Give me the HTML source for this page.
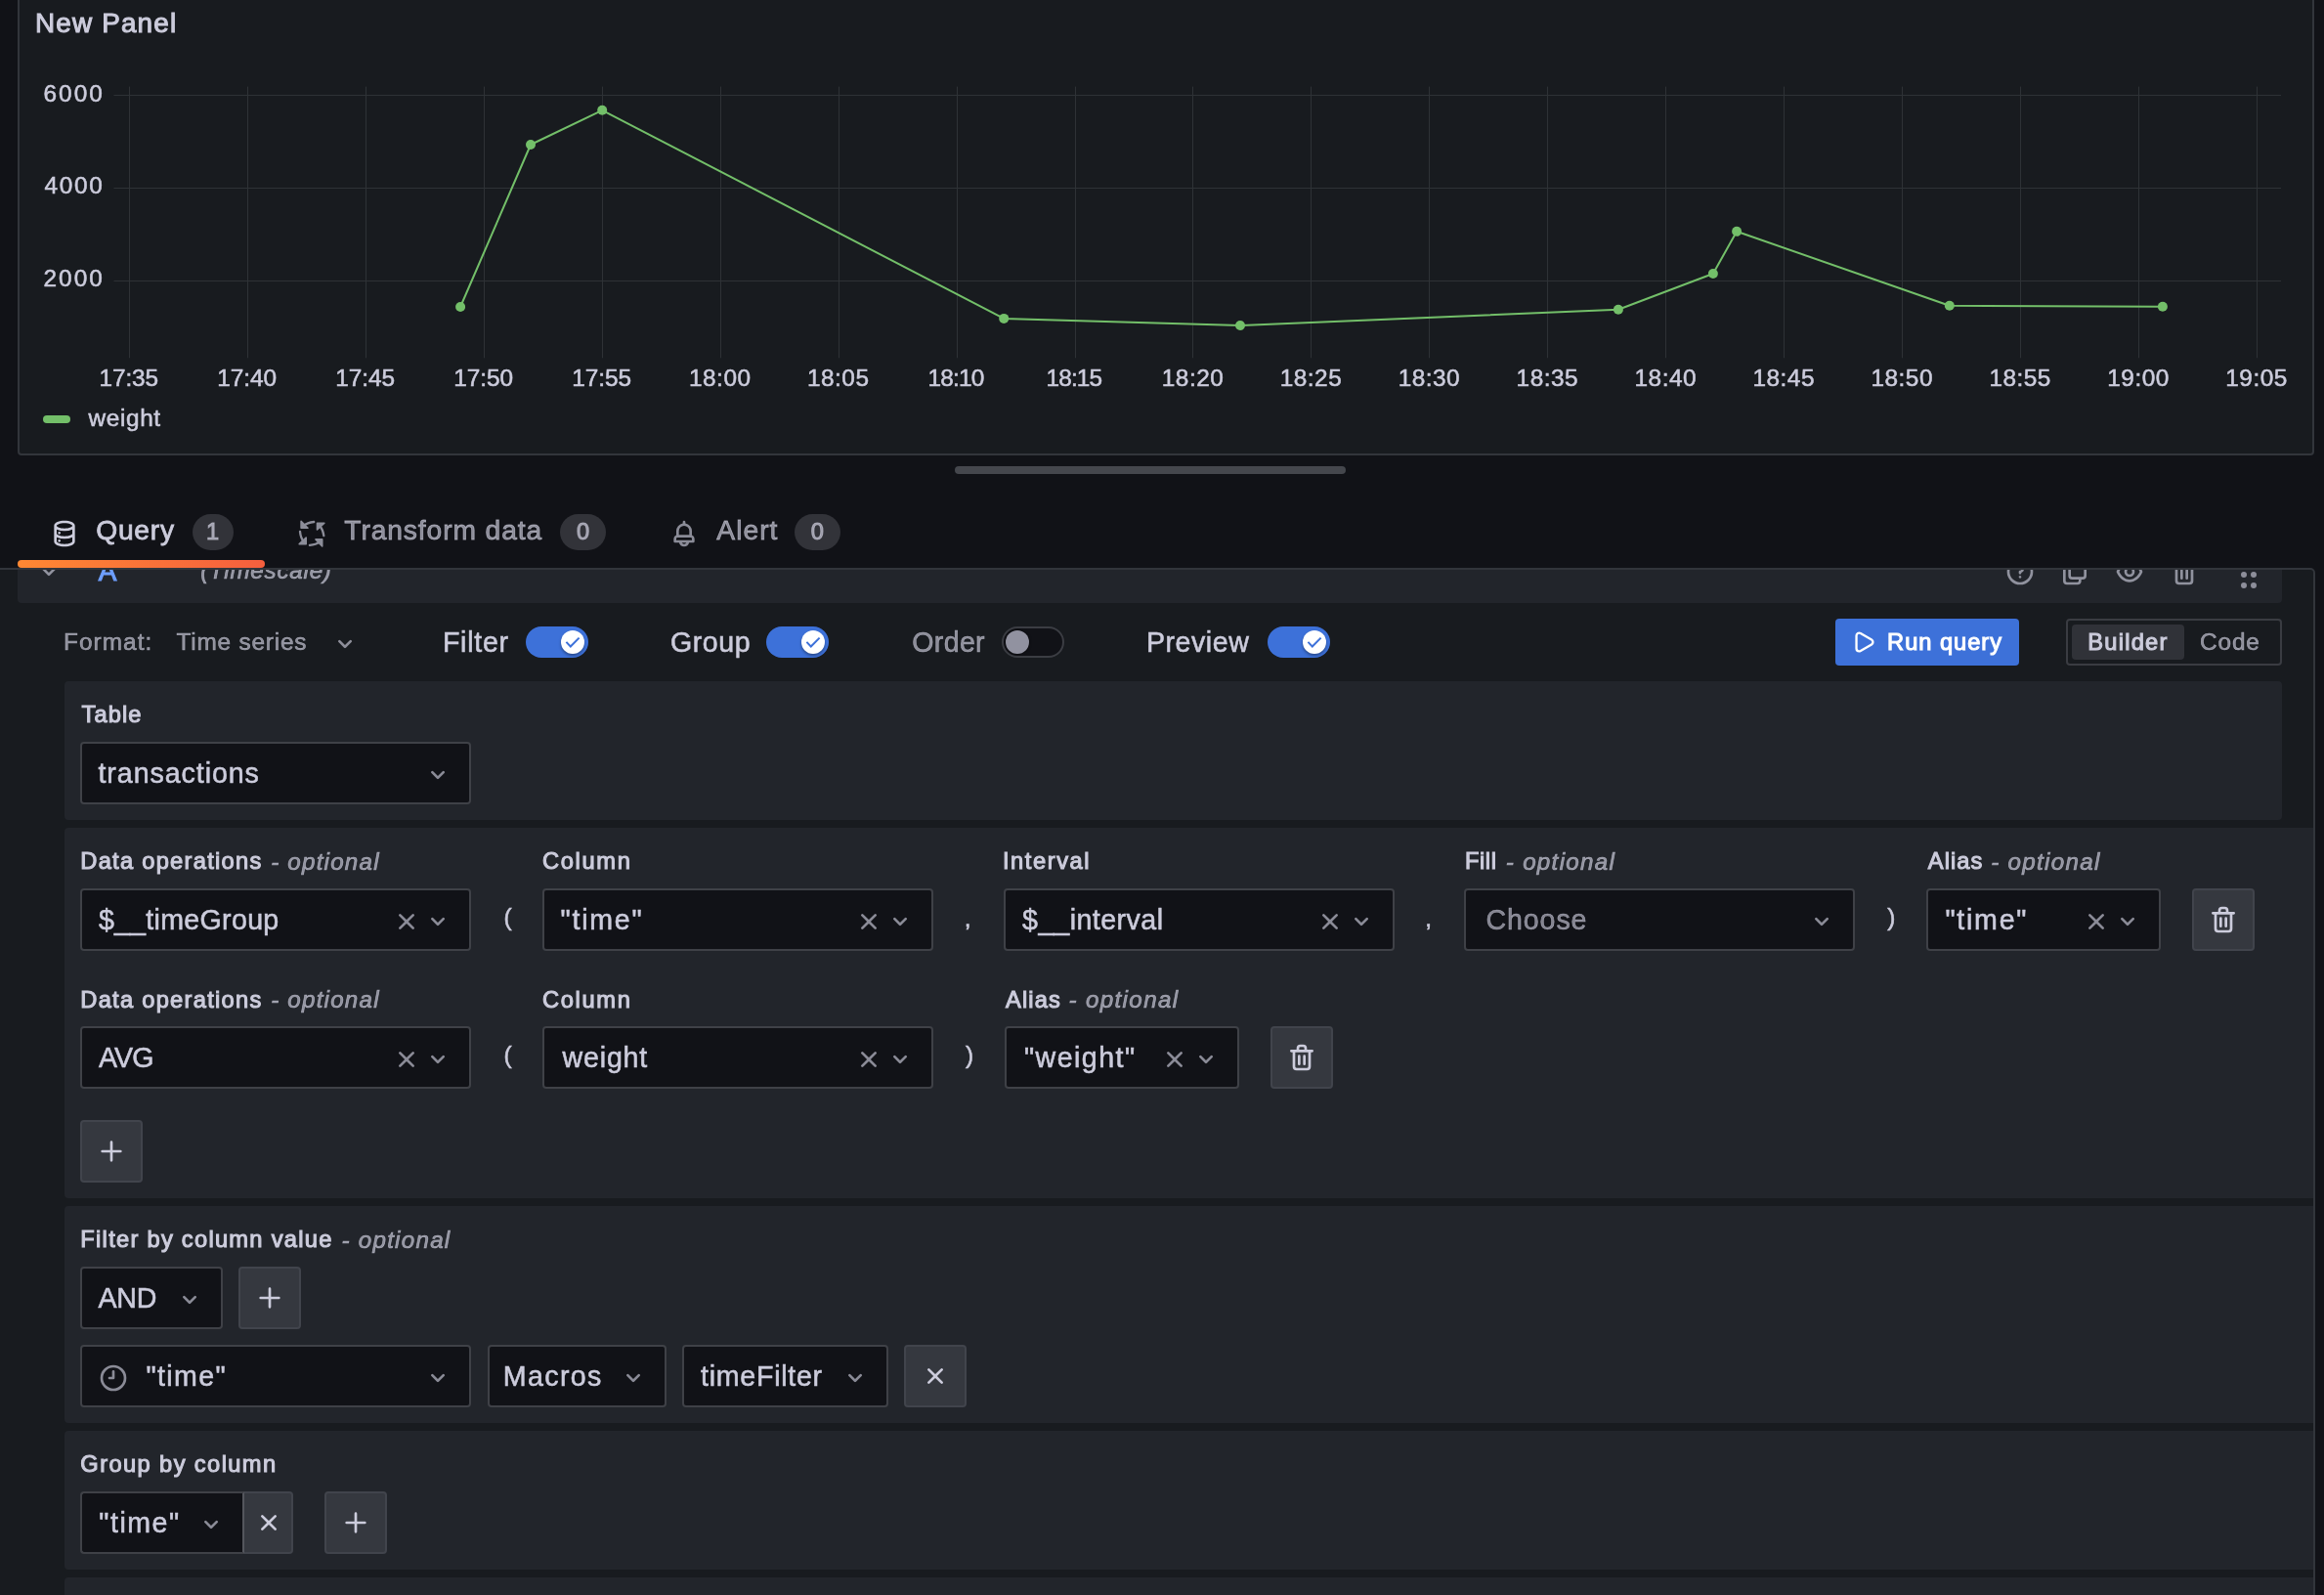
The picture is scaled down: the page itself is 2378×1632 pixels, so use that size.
<!DOCTYPE html>
<html lang="en"><head><meta charset="utf-8"><title>Edit panel - New Panel - Grafana</title>
<style>
html,body{margin:0;padding:0}
body{width:2378px;height:1632px;overflow:hidden;background:#111217;position:relative;
 font-family:"Liberation Sans",sans-serif;color:#ccccdc}
.abs,.t,.ic,.chart,.hdr,.sec,.sel,.btn,.runq,.rg,.rga,.tg,.dot,.panel,.qc,.clip,.handle,.badge,.ul,.leg{position:absolute}
.t{line-height:1;white-space:nowrap;color:#ccccdc;-webkit-text-stroke:0.55px currentColor}
.i{font-style:italic;-webkit-text-stroke:0.7px currentColor}
.m{-webkit-text-stroke:1.05px currentColor}
.sm{-webkit-text-stroke:0.8px currentColor}
.gl{position:absolute;left:0;top:0;width:2378px;height:1632px;will-change:transform}
.panel{left:18px;top:-20px;width:2346px;height:482px;border:2px solid #32353b;border-radius:4px;background:#181b1f}
.chart{left:0;top:0}
.leg{left:44px;top:425px;width:28px;height:8px;border-radius:4px;background:#73bf69}
.handle{left:977px;top:477px;width:400px;height:8px;border-radius:4px;background:#45474d}
.badge{top:526px;height:37px;border-radius:19px;background:#323339}
.ul{left:18px;top:573px;width:253px;height:8px;border-radius:4px;background:linear-gradient(90deg,#ff8833 0%,#f55f3e 100%)}
.qc{left:-12px;top:581px;width:2377px;height:1100px;border:2px solid #32353b;border-radius:5px;background:#181b1f}
.clip{left:0;top:0;width:2378px;height:1632px;clip-path:inset(583px 11px 0 0)}
.hdr{background:#22252b;border-radius:4px}
.sec{background:#22252b;border-radius:4px}
.sel{box-sizing:border-box;background:#111217;border:2px solid #3f4147;border-radius:4px}
.btn{box-sizing:border-box;background:#35383f;border:2px solid #41444c;border-radius:4px}
.runq{background:#3d71d9;border-radius:4px}
.rg{box-sizing:border-box;border:2px solid #3a3c42;border-radius:4px}
.rga{background:#303238;border-radius:4px}
.dot{width:6px;height:6px;border-radius:50%;background:#8d8e9a}
.tg{box-sizing:border-box;width:64px;height:32px;border-radius:16px}
.tg.on{background:#3d71d9}
.tg.on .kn{position:absolute;left:36px;top:4px;width:24px;height:24px;border-radius:50%;background:#fff;box-shadow:0 2px 3px rgba(0,0,0,.35)}
.tg.on .ck{position:absolute;left:36px;top:4px}
.tg.off{background:#111217;border:2px solid #3b3d43}
.tg.off .kn{position:absolute;left:1.8px;top:2px;width:24px;height:24px;border-radius:50%;background:#9192a0;box-shadow:0 0 3px rgba(0,0,0,.6)}
</style></head>
<body>
<div class="panel"></div>
<svg class="chart" width="2378" height="470" viewBox="0 0 2378 470"><line x1="132.5" y1="88.6" x2="132.5" y2="366.3" stroke="#2e3236" stroke-width="1"/><line x1="253.5" y1="88.6" x2="253.5" y2="366.3" stroke="#2e3236" stroke-width="1"/><line x1="374.5" y1="88.6" x2="374.5" y2="366.3" stroke="#2e3236" stroke-width="1"/><line x1="495.5" y1="88.6" x2="495.5" y2="366.3" stroke="#2e3236" stroke-width="1"/><line x1="616.5" y1="88.6" x2="616.5" y2="366.3" stroke="#2e3236" stroke-width="1"/><line x1="737.5" y1="88.6" x2="737.5" y2="366.3" stroke="#2e3236" stroke-width="1"/><line x1="858.5" y1="88.6" x2="858.5" y2="366.3" stroke="#2e3236" stroke-width="1"/><line x1="979.5" y1="88.6" x2="979.5" y2="366.3" stroke="#2e3236" stroke-width="1"/><line x1="1100.5" y1="88.6" x2="1100.5" y2="366.3" stroke="#2e3236" stroke-width="1"/><line x1="1220.5" y1="88.6" x2="1220.5" y2="366.3" stroke="#2e3236" stroke-width="1"/><line x1="1341.5" y1="88.6" x2="1341.5" y2="366.3" stroke="#2e3236" stroke-width="1"/><line x1="1462.5" y1="88.6" x2="1462.5" y2="366.3" stroke="#2e3236" stroke-width="1"/><line x1="1583.5" y1="88.6" x2="1583.5" y2="366.3" stroke="#2e3236" stroke-width="1"/><line x1="1704.5" y1="88.6" x2="1704.5" y2="366.3" stroke="#2e3236" stroke-width="1"/><line x1="1825.5" y1="88.6" x2="1825.5" y2="366.3" stroke="#2e3236" stroke-width="1"/><line x1="1946.5" y1="88.6" x2="1946.5" y2="366.3" stroke="#2e3236" stroke-width="1"/><line x1="2067.5" y1="88.6" x2="2067.5" y2="366.3" stroke="#2e3236" stroke-width="1"/><line x1="2188.5" y1="88.6" x2="2188.5" y2="366.3" stroke="#2e3236" stroke-width="1"/><line x1="2309.5" y1="88.6" x2="2309.5" y2="366.3" stroke="#2e3236" stroke-width="1"/><line x1="116.5" y1="97.5" x2="2334" y2="97.5" stroke="#2e3236" stroke-width="1"/><line x1="116.5" y1="192.5" x2="2334" y2="192.5" stroke="#2e3236" stroke-width="1"/><line x1="116.5" y1="287.5" x2="2334" y2="287.5" stroke="#2e3236" stroke-width="1"/><polyline fill="none" stroke="#73bf69" stroke-width="2" stroke-linejoin="round" points="471.1,314.0 543.0,148.0 616.2,112.8 1027.2,325.9 1269.0,333.0 1655.9,316.8 1752.9,280.0 1777.1,236.8 1994.8,312.7 2212.9,313.8"/><circle cx="471.1" cy="314.0" r="5" fill="#73bf69"/><circle cx="543.0" cy="148.0" r="5" fill="#73bf69"/><circle cx="616.2" cy="112.8" r="5" fill="#73bf69"/><circle cx="1027.2" cy="325.9" r="5" fill="#73bf69"/><circle cx="1269.0" cy="333.0" r="5" fill="#73bf69"/><circle cx="1655.9" cy="316.8" r="5" fill="#73bf69"/><circle cx="1752.9" cy="280.0" r="5" fill="#73bf69"/><circle cx="1777.1" cy="236.8" r="5" fill="#73bf69"/><circle cx="1994.8" cy="312.7" r="5" fill="#73bf69"/><circle cx="2212.9" cy="313.8" r="5" fill="#73bf69"/></svg>
<div class="leg"></div>
<div class="handle"></div>
<!-- tabs -->
<svg class="ic" style="left:50.00px;top:530.00px" width="32" height="32" viewBox="0 0 24 24"><path fill="#ccccdc" d="M8,16.5a1,1,0,1,0,1,1A1,1,0,0,0,8,16.5ZM12,2C8,2,4,3.37,4,6V18c0,2.63,4,4,8,4s8-1.37,8-4V6C20,3.37,16,2,12,2Zm6,16c0,.71-2.28,2-6,2s-6-1.29-6-2V14.73A13.16,13.16,0,0,0,12,16a13.16,13.16,0,0,0,6-1.27Zm0-6c0,.71-2.28,2-6,2s-6-1.29-6-2V8.73A13.16,13.16,0,0,0,12,10a13.16,13.16,0,0,0,6-1.27ZM12,8C8.28,8,6,6.71,6,6s2.28-2,6-2,6,1.29,6,2S15.72,8,12,8ZM8,10.5a1,1,0,1,0,1,1A1,1,0,0,0,8,10.5Z"/></svg>
<svg class="ic" style="left:300px;top:527px" width="40" height="38" viewBox="300 527 40 38"><g fill="none" stroke="#8c8d99" stroke-width="2.3" stroke-linecap="round" stroke-linejoin="round"><path d="M310.5 538 Q314.5 534.6 321.2 534"/><path d="M326.8 537.6 Q330.4 541.5 331.3 548.2"/><path d="M310.8 554.2 Q307.6 550.6 307 543.9"/><path d="M327 554.4 Q323.4 557.4 316.9 557.9"/></g><g fill="#8c8d99" stroke="#8c8d99" stroke-width="1.6" stroke-linejoin="round"><path d="M308.1 533.4 V540.3 H315 Z"/><path d="M331.9 535.2 H324.5 V542 Z"/><path d="M306.2 556.7 H313.2 V550 Z"/><path d="M323 551.9 H329.7 V559 Z"/></g></svg>
<svg class="ic" style="left:684.00px;top:530.00px" width="32" height="32" viewBox="0 0 24 24"><path fill="rgba(204,204,220,0.65)" d="M18,13.18V10a6,6,0,0,0-5-5.91V3a1,1,0,0,0-2,0V4.09A6,6,0,0,0,6,10v3.18A3,3,0,0,0,4,16v2a1,1,0,0,0,1,1H8.14a4,4,0,0,0,7.72,0H19a1,1,0,0,0,1-1V16A3,3,0,0,0,18,13.18ZM8,10a4,4,0,0,1,8,0v3H8Zm4,10a2,2,0,0,1-1.72-1h3.44A2,2,0,0,1,12,20Zm6-3H6V16a1,1,0,0,1,1-1H17a1,1,0,0,1,1,1Z"/></svg>
<div class="badge" style="left:197px;width:42px"></div>
<div class="badge" style="left:573px;width:47px"></div>
<div class="badge" style="left:813px;width:47px"></div>
<div class="qc"></div>
<div class="ul"></div>
<div class="gl">
<span class="t m" style="left:35.92px;top:10.27px;font-size:27.86px;letter-spacing:1.189px">New Panel</span>
<span class="t" style="left:44.57px;top:83.52px;font-size:24.39px;letter-spacing:1.994px">6000</span>
<span class="t" style="left:45.57px;top:178.42px;font-size:24.39px;letter-spacing:1.660px">4000</span>
<span class="t" style="left:44.57px;top:273.43px;font-size:24.39px;letter-spacing:1.994px">2000</span>
<span class="t" style="left:101.38px;top:374.53px;font-size:24.39px;letter-spacing:-0.048px">17:35</span>
<span class="t" style="left:222.32px;top:374.53px;font-size:24.39px;letter-spacing:-0.048px">17:40</span>
<span class="t" style="left:343.26px;top:374.53px;font-size:24.39px;letter-spacing:-0.048px">17:45</span>
<span class="t" style="left:464.21px;top:374.53px;font-size:24.39px;letter-spacing:-0.048px">17:50</span>
<span class="t" style="left:585.15px;top:374.53px;font-size:24.39px;letter-spacing:-0.048px">17:55</span>
<span class="t" style="left:705.00px;top:374.53px;font-size:24.39px;letter-spacing:0.502px">18:00</span>
<span class="t" style="left:825.94px;top:374.53px;font-size:24.39px;letter-spacing:0.502px">18:05</span>
<span class="t" style="left:949.58px;top:374.53px;font-size:24.39px;letter-spacing:-0.848px">18:10</span>
<span class="t" style="left:1070.53px;top:374.53px;font-size:24.39px;letter-spacing:-0.848px">18:15</span>
<span class="t" style="left:1188.77px;top:374.53px;font-size:24.39px;letter-spacing:0.502px">18:20</span>
<span class="t" style="left:1309.72px;top:374.53px;font-size:24.39px;letter-spacing:0.502px">18:25</span>
<span class="t" style="left:1430.66px;top:374.53px;font-size:24.39px;letter-spacing:0.502px">18:30</span>
<span class="t" style="left:1551.60px;top:374.53px;font-size:24.39px;letter-spacing:0.502px">18:35</span>
<span class="t" style="left:1672.55px;top:374.53px;font-size:24.39px;letter-spacing:0.502px">18:40</span>
<span class="t" style="left:1793.49px;top:374.53px;font-size:24.39px;letter-spacing:0.502px">18:45</span>
<span class="t" style="left:1914.44px;top:374.53px;font-size:24.39px;letter-spacing:0.502px">18:50</span>
<span class="t" style="left:2035.38px;top:374.53px;font-size:24.39px;letter-spacing:0.502px">18:55</span>
<span class="t" style="left:2156.32px;top:374.53px;font-size:24.39px;letter-spacing:0.502px">19:00</span>
<span class="t" style="left:2277.27px;top:374.53px;font-size:24.39px;letter-spacing:0.502px">19:05</span>
<span class="t" style="left:90.48px;top:415.53px;font-size:24.39px;letter-spacing:0.633px">weight</span>
<span class="t sm" style="left:98.30px;top:528.40px;font-size:28.23px;letter-spacing:0.716px">Query</span>
<span class="t m" style="left:211.10px;top:533.48px;font-size:23.67px;color:rgba(204,204,220,0.65)">1</span>
<span class="t sm" style="left:352.30px;top:528.40px;font-size:28.23px;letter-spacing:0.893px;color:rgba(204,204,220,0.65)">Transform data</span>
<span class="t m" style="left:589.90px;top:533.48px;font-size:23.67px;color:rgba(204,204,220,0.65)">0</span>
<span class="t sm" style="left:733.30px;top:528.40px;font-size:28.23px;letter-spacing:1.030px;color:rgba(204,204,220,0.65)">Alert</span>
<span class="t m" style="left:829.80px;top:533.48px;font-size:23.67px;color:rgba(204,204,220,0.65)">0</span>
</div>
<div class="gl"><div class="clip">
<div class="hdr" style="left:18px;top:552.5px;width:2317px;height:64px;"></div>
<svg class="ic" style="left:34.20px;top:568.80px" width="32" height="32" viewBox="0 0 24 24"><path fill="rgba(204,204,220,0.65)" d="M17,9.17a1,1,0,0,0-1.41,0L12,12.71,8.46,9.17a1,1,0,0,0-1.41,0,1,1,0,0,0,0,1.42l4.24,4.24a1,1,0,0,0,1.42,0L17,10.59A1,1,0,0,0,17,9.17Z"/></svg>
<svg class="ic" style="left:2051.00px;top:569.00px" width="32" height="32" viewBox="0 0 24 24"><path fill="rgba(204,204,220,0.65)" d="M11.29,15.29a1.58,1.58,0,0,0-.12.15.76.76,0,0,0-.09.18.64.64,0,0,0-.06.18,1.36,1.36,0,0,0,0,.2.84.84,0,0,0,.08.38.9.9,0,0,0,.54.54.94.94,0,0,0,.76,0,.9.9,0,0,0,.54-.54A1,1,0,0,0,13,16a1,1,0,0,0-.29-.71A1,1,0,0,0,11.29,15.29ZM12,2A10,10,0,1,0,22,12,10,10,0,0,0,12,2Zm0,18a8,8,0,1,1,8-8A8,8,0,0,1,12,20ZM12,7A3,3,0,0,0,9.4,8.5a1,1,0,1,0,1.73,1A1,1,0,0,1,12,9a1,1,0,0,1,0,2,1,1,0,0,0-1,1v1a1,1,0,0,0,2,0v-.18A3,3,0,0,0,12,7Z"/></svg>
<svg class="ic" style="left:2107.00px;top:569.00px" width="32" height="32" viewBox="0 0 24 24"><path fill="rgba(204,204,220,0.65)" d="M21,8.94a1.31,1.31,0,0,0-.06-.27l0-.09a1.07,1.07,0,0,0-.19-.28h0l-6-6h0a1.07,1.07,0,0,0-.28-.19.32.32,0,0,0-.09,0A.88.88,0,0,0,14.05,2H10A3,3,0,0,0,7,5V6H6A3,3,0,0,0,3,9V19a3,3,0,0,0,3,3h8a3,3,0,0,0,3-3V18h1a3,3,0,0,0,3-3V9S21,9,21,8.94ZM15,5.41,17.59,8H16a1,1,0,0,1-1-1ZM15,19a1,1,0,0,1-1,1H6a1,1,0,0,1-1-1V9A1,1,0,0,1,6,8H7v7a3,3,0,0,0,3,3h5Zm4-4a1,1,0,0,1-1,1H10a1,1,0,0,1-1-1V5a1,1,0,0,1,1-1h3V7a3,3,0,0,0,3,3h3Z"/></svg>
<svg class="ic" style="left:2163.00px;top:569.00px" width="32" height="32" viewBox="0 0 24 24"><path fill="rgba(204,204,220,0.65)" d="M21.92,11.6C19.9,6.91,16.1,4,12,4S4.1,6.91,2.08,11.6a1,1,0,0,0,0,.8C4.1,17.09,7.9,20,12,20s7.9-2.91,9.92-7.6A1,1,0,0,0,21.92,11.6ZM12,18c-3.17,0-6.17-2.29-7.9-6C5.83,8.29,8.83,6,12,6s6.17,2.29,7.9,6C18.17,15.71,15.17,18,12,18ZM12,8a4,4,0,1,0,4,4A4,4,0,0,0,12,8Zm0,6a2,2,0,1,1,2-2A2,2,0,0,1,12,14Z"/></svg>
<svg class="ic" style="left:2219.00px;top:569.00px" width="32" height="32" viewBox="0 0 24 24"><path fill="rgba(204,204,220,0.65)" d="M10,18a1,1,0,0,0,1-1V11a1,1,0,0,0-2,0v6A1,1,0,0,0,10,18ZM20,6H16V5a3,3,0,0,0-3-3H11A3,3,0,0,0,8,5V6H4A1,1,0,0,0,4,8H5V19a3,3,0,0,0,3,3h8a3,3,0,0,0,3-3V8h1a1,1,0,0,0,0-2ZM10,5a1,1,0,0,1,1-1h2a1,1,0,0,1,1,1V6H10Zm7,14a1,1,0,0,1-1,1H8a1,1,0,0,1-1-1V8H17Zm-3-1a1,1,0,0,0,1-1V11a1,1,0,0,0-2,0v6A1,1,0,0,0,14,18Z"/></svg>
<div class="dot" style="left:2292.7px;top:574.9px"></div>
<div class="dot" style="left:2292.7px;top:585.2px"></div>
<div class="dot" style="left:2292.7px;top:595.6px"></div>
<div class="dot" style="left:2303.1px;top:574.9px"></div>
<div class="dot" style="left:2303.1px;top:585.2px"></div>
<div class="dot" style="left:2303.1px;top:595.6px"></div>
<svg class="ic" style="left:337.00px;top:643.00px" width="32" height="32" viewBox="0 0 24 24"><path fill="rgba(204,204,220,0.65)" d="M17,9.17a1,1,0,0,0-1.41,0L12,12.71,8.46,9.17a1,1,0,0,0-1.41,0,1,1,0,0,0,0,1.42l4.24,4.24a1,1,0,0,0,1.42,0L17,10.59A1,1,0,0,0,17,9.17Z"/></svg>
<div class="tg on" style="left:538px;top:641px"><div class="kn"></div><svg class="ck" width="24" height="24" viewBox="0 0 24 24"><path d="M5.4 11.9 L9.8 16.5 L18.6 7.6" fill="none" stroke="#3d71d9" stroke-width="2" stroke-linecap="butt" stroke-linejoin="miter"/></svg></div>
<div class="tg on" style="left:784px;top:641px"><div class="kn"></div><svg class="ck" width="24" height="24" viewBox="0 0 24 24"><path d="M5.4 11.9 L9.8 16.5 L18.6 7.6" fill="none" stroke="#3d71d9" stroke-width="2" stroke-linecap="butt" stroke-linejoin="miter"/></svg></div>
<div class="tg off" style="left:1025.2px;top:641px"><div class="kn"></div></div>
<div class="tg on" style="left:1297px;top:641px"><div class="kn"></div><svg class="ck" width="24" height="24" viewBox="0 0 24 24"><path d="M5.4 11.9 L9.8 16.5 L18.6 7.6" fill="none" stroke="#3d71d9" stroke-width="2" stroke-linecap="butt" stroke-linejoin="miter"/></svg></div>
<div class="runq" style="left:1878px;top:633px;width:188px;height:48px;"></div>
<svg class="ic" style="left:1894.00px;top:642.90px" width="28" height="28" viewBox="0 0 24 24"><path fill="#ffffff" d="M18.54,9,8.88,3.46a3.42,3.42,0,0,0-5.13,3V17.58A3.42,3.42,0,0,0,7.17,21a3.43,3.43,0,0,0,1.71-.46L18.54,15a3.42,3.42,0,0,0,0-5.92Zm-1,4.19L7.88,18.81a1.44,1.44,0,0,1-1.42,0,1.42,1.42,0,0,1-.71-1.23V6.42a1.42,1.42,0,0,1,.71-1.23A1.51,1.51,0,0,1,7.17,5a1.54,1.54,0,0,1,.71.19l9.66,5.58a1.42,1.42,0,0,1,0,2.46Z"/></svg>
<div class="rg" style="left:2114.3px;top:633.2px;width:220.6px;height:47.6px;"></div>
<div class="rga" style="left:2120px;top:639px;width:115.4px;height:36px;"></div>
<div class="sec" style="left:66px;top:697px;width:2269px;height:142px;"></div>
<div class="sec" style="left:66px;top:847px;width:2305px;height:379px;border-radius:4px 0 0 4px"></div>
<div class="sec" style="left:66px;top:1234px;width:2305px;height:222px;border-radius:4px 0 0 4px"></div>
<div class="sec" style="left:66px;top:1464px;width:2305px;height:142px;border-radius:4px 0 0 4px"></div>
<div class="sec" style="left:66px;top:1614px;width:2305px;height:60px;border-radius:4px 0 0 4px"></div>
<div class="sel" style="left:82px;top:759px;width:400px;height:64px;"></div><svg class="ic" style="left:432.00px;top:776.80px" width="32" height="32" viewBox="0 0 24 24"><path fill="rgba(204,204,220,0.65)" d="M17,9.17a1,1,0,0,0-1.41,0L12,12.71,8.46,9.17a1,1,0,0,0-1.41,0,1,1,0,0,0,0,1.42l4.24,4.24a1,1,0,0,0,1.42,0L17,10.59A1,1,0,0,0,17,9.17Z"/></svg>
<div class="sel" style="left:82px;top:909px;width:400px;height:64px;"></div><svg class="ic" style="left:400.00px;top:926.80px" width="32" height="32" viewBox="0 0 24 24"><path fill="rgba(204,204,220,0.65)" d="M13.41,12l4.3-4.29a1,1,0,1,0-1.42-1.42L12,10.59,7.71,6.29A1,1,0,0,0,6.29,7.71L10.59,12l-4.3,4.29a1,1,0,0,0,0,1.42,1,1,0,0,0,1.42,0L12,13.41l4.29,4.3a1,1,0,0,0,1.42,0,1,1,0,0,0,0-1.42Z"/></svg><svg class="ic" style="left:432.00px;top:926.80px" width="32" height="32" viewBox="0 0 24 24"><path fill="rgba(204,204,220,0.65)" d="M17,9.17a1,1,0,0,0-1.41,0L12,12.71,8.46,9.17a1,1,0,0,0-1.41,0,1,1,0,0,0,0,1.42l4.24,4.24a1,1,0,0,0,1.42,0L17,10.59A1,1,0,0,0,17,9.17Z"/></svg>
<div class="sel" style="left:554.8px;top:909px;width:400px;height:64px;"></div><svg class="ic" style="left:872.80px;top:926.80px" width="32" height="32" viewBox="0 0 24 24"><path fill="rgba(204,204,220,0.65)" d="M13.41,12l4.3-4.29a1,1,0,1,0-1.42-1.42L12,10.59,7.71,6.29A1,1,0,0,0,6.29,7.71L10.59,12l-4.3,4.29a1,1,0,0,0,0,1.42,1,1,0,0,0,1.42,0L12,13.41l4.29,4.3a1,1,0,0,0,1.42,0,1,1,0,0,0,0-1.42Z"/></svg><svg class="ic" style="left:904.80px;top:926.80px" width="32" height="32" viewBox="0 0 24 24"><path fill="rgba(204,204,220,0.65)" d="M17,9.17a1,1,0,0,0-1.41,0L12,12.71,8.46,9.17a1,1,0,0,0-1.41,0,1,1,0,0,0,0,1.42l4.24,4.24a1,1,0,0,0,1.42,0L17,10.59A1,1,0,0,0,17,9.17Z"/></svg>
<div class="sel" style="left:1026.9px;top:909px;width:400px;height:64px;"></div><svg class="ic" style="left:1344.90px;top:926.80px" width="32" height="32" viewBox="0 0 24 24"><path fill="rgba(204,204,220,0.65)" d="M13.41,12l4.3-4.29a1,1,0,1,0-1.42-1.42L12,10.59,7.71,6.29A1,1,0,0,0,6.29,7.71L10.59,12l-4.3,4.29a1,1,0,0,0,0,1.42,1,1,0,0,0,1.42,0L12,13.41l4.29,4.3a1,1,0,0,0,1.42,0,1,1,0,0,0,0-1.42Z"/></svg><svg class="ic" style="left:1376.90px;top:926.80px" width="32" height="32" viewBox="0 0 24 24"><path fill="rgba(204,204,220,0.65)" d="M17,9.17a1,1,0,0,0-1.41,0L12,12.71,8.46,9.17a1,1,0,0,0-1.41,0,1,1,0,0,0,0,1.42l4.24,4.24a1,1,0,0,0,1.42,0L17,10.59A1,1,0,0,0,17,9.17Z"/></svg>
<div class="sel" style="left:1498px;top:909px;width:400px;height:64px;"></div><svg class="ic" style="left:1848.00px;top:926.80px" width="32" height="32" viewBox="0 0 24 24"><path fill="rgba(204,204,220,0.65)" d="M17,9.17a1,1,0,0,0-1.41,0L12,12.71,8.46,9.17a1,1,0,0,0-1.41,0,1,1,0,0,0,0,1.42l4.24,4.24a1,1,0,0,0,1.42,0L17,10.59A1,1,0,0,0,17,9.17Z"/></svg>
<div class="sel" style="left:1971.2px;top:909px;width:240px;height:64px;"></div><svg class="ic" style="left:2129.20px;top:926.80px" width="32" height="32" viewBox="0 0 24 24"><path fill="rgba(204,204,220,0.65)" d="M13.41,12l4.3-4.29a1,1,0,1,0-1.42-1.42L12,10.59,7.71,6.29A1,1,0,0,0,6.29,7.71L10.59,12l-4.3,4.29a1,1,0,0,0,0,1.42,1,1,0,0,0,1.42,0L12,13.41l4.29,4.3a1,1,0,0,0,1.42,0,1,1,0,0,0,0-1.42Z"/></svg><svg class="ic" style="left:2161.20px;top:926.80px" width="32" height="32" viewBox="0 0 24 24"><path fill="rgba(204,204,220,0.65)" d="M17,9.17a1,1,0,0,0-1.41,0L12,12.71,8.46,9.17a1,1,0,0,0-1.41,0,1,1,0,0,0,0,1.42l4.24,4.24a1,1,0,0,0,1.42,0L17,10.59A1,1,0,0,0,17,9.17Z"/></svg>
<div class="btn" style="left:2243px;top:909px;width:64px;height:64px;"></div><svg class="ic" style="left:2259.00px;top:925.00px" width="32" height="32" viewBox="0 0 24 24"><path fill="#ccccdc" d="M10,18a1,1,0,0,0,1-1V11a1,1,0,0,0-2,0v6A1,1,0,0,0,10,18ZM20,6H16V5a3,3,0,0,0-3-3H11A3,3,0,0,0,8,5V6H4A1,1,0,0,0,4,8H5V19a3,3,0,0,0,3,3h8a3,3,0,0,0,3-3V8h1a1,1,0,0,0,0-2ZM10,5a1,1,0,0,1,1-1h2a1,1,0,0,1,1,1V6H10Zm7,14a1,1,0,0,1-1,1H8a1,1,0,0,1-1-1V8H17Zm-3-1a1,1,0,0,0,1-1V11a1,1,0,0,0-2,0v6A1,1,0,0,0,14,18Z"/></svg>
<div class="sel" style="left:82px;top:1050px;width:400px;height:64px;"></div><svg class="ic" style="left:400.00px;top:1067.80px" width="32" height="32" viewBox="0 0 24 24"><path fill="rgba(204,204,220,0.65)" d="M13.41,12l4.3-4.29a1,1,0,1,0-1.42-1.42L12,10.59,7.71,6.29A1,1,0,0,0,6.29,7.71L10.59,12l-4.3,4.29a1,1,0,0,0,0,1.42,1,1,0,0,0,1.42,0L12,13.41l4.29,4.3a1,1,0,0,0,1.42,0,1,1,0,0,0,0-1.42Z"/></svg><svg class="ic" style="left:432.00px;top:1067.80px" width="32" height="32" viewBox="0 0 24 24"><path fill="rgba(204,204,220,0.65)" d="M17,9.17a1,1,0,0,0-1.41,0L12,12.71,8.46,9.17a1,1,0,0,0-1.41,0,1,1,0,0,0,0,1.42l4.24,4.24a1,1,0,0,0,1.42,0L17,10.59A1,1,0,0,0,17,9.17Z"/></svg>
<div class="sel" style="left:554.8px;top:1050px;width:400px;height:64px;"></div><svg class="ic" style="left:872.80px;top:1067.80px" width="32" height="32" viewBox="0 0 24 24"><path fill="rgba(204,204,220,0.65)" d="M13.41,12l4.3-4.29a1,1,0,1,0-1.42-1.42L12,10.59,7.71,6.29A1,1,0,0,0,6.29,7.71L10.59,12l-4.3,4.29a1,1,0,0,0,0,1.42,1,1,0,0,0,1.42,0L12,13.41l4.29,4.3a1,1,0,0,0,1.42,0,1,1,0,0,0,0-1.42Z"/></svg><svg class="ic" style="left:904.80px;top:1067.80px" width="32" height="32" viewBox="0 0 24 24"><path fill="rgba(204,204,220,0.65)" d="M17,9.17a1,1,0,0,0-1.41,0L12,12.71,8.46,9.17a1,1,0,0,0-1.41,0,1,1,0,0,0,0,1.42l4.24,4.24a1,1,0,0,0,1.42,0L17,10.59A1,1,0,0,0,17,9.17Z"/></svg>
<div class="sel" style="left:1027.6px;top:1050px;width:240px;height:64px;"></div><svg class="ic" style="left:1185.60px;top:1067.80px" width="32" height="32" viewBox="0 0 24 24"><path fill="rgba(204,204,220,0.65)" d="M13.41,12l4.3-4.29a1,1,0,1,0-1.42-1.42L12,10.59,7.71,6.29A1,1,0,0,0,6.29,7.71L10.59,12l-4.3,4.29a1,1,0,0,0,0,1.42,1,1,0,0,0,1.42,0L12,13.41l4.29,4.3a1,1,0,0,0,1.42,0,1,1,0,0,0,0-1.42Z"/></svg><svg class="ic" style="left:1217.60px;top:1067.80px" width="32" height="32" viewBox="0 0 24 24"><path fill="rgba(204,204,220,0.65)" d="M17,9.17a1,1,0,0,0-1.41,0L12,12.71,8.46,9.17a1,1,0,0,0-1.41,0,1,1,0,0,0,0,1.42l4.24,4.24a1,1,0,0,0,1.42,0L17,10.59A1,1,0,0,0,17,9.17Z"/></svg>
<div class="btn" style="left:1300px;top:1050px;width:64px;height:64px;"></div><svg class="ic" style="left:1316.00px;top:1066.00px" width="32" height="32" viewBox="0 0 24 24"><path fill="#ccccdc" d="M10,18a1,1,0,0,0,1-1V11a1,1,0,0,0-2,0v6A1,1,0,0,0,10,18ZM20,6H16V5a3,3,0,0,0-3-3H11A3,3,0,0,0,8,5V6H4A1,1,0,0,0,4,8H5V19a3,3,0,0,0,3,3h8a3,3,0,0,0,3-3V8h1a1,1,0,0,0,0-2ZM10,5a1,1,0,0,1,1-1h2a1,1,0,0,1,1,1V6H10Zm7,14a1,1,0,0,1-1,1H8a1,1,0,0,1-1-1V8H17Zm-3-1a1,1,0,0,0,1-1V11a1,1,0,0,0-2,0v6A1,1,0,0,0,14,18Z"/></svg>
<div class="btn" style="left:82px;top:1146px;width:64px;height:64px;"></div><svg class="ic" style="left:98.00px;top:1162.00px" width="32" height="32" viewBox="0 0 24 24"><path fill="#ccccdc" d="M19,11H13V5a1,1,0,0,0-2,0v6H5a1,1,0,0,0,0,2h6v6a1,1,0,0,0,2,0V13h6a1,1,0,0,0,0-2Z"/></svg>
<div class="sel" style="left:82px;top:1296px;width:146px;height:64px;"></div><svg class="ic" style="left:178.00px;top:1313.80px" width="32" height="32" viewBox="0 0 24 24"><path fill="rgba(204,204,220,0.65)" d="M17,9.17a1,1,0,0,0-1.41,0L12,12.71,8.46,9.17a1,1,0,0,0-1.41,0,1,1,0,0,0,0,1.42l4.24,4.24a1,1,0,0,0,1.42,0L17,10.59A1,1,0,0,0,17,9.17Z"/></svg>
<div class="btn" style="left:244px;top:1296px;width:64px;height:64px;"></div><svg class="ic" style="left:260.00px;top:1312.00px" width="32" height="32" viewBox="0 0 24 24"><path fill="#ccccdc" d="M19,11H13V5a1,1,0,0,0-2,0v6H5a1,1,0,0,0,0,2h6v6a1,1,0,0,0,2,0V13h6a1,1,0,0,0,0-2Z"/></svg>
<div class="sel" style="left:82px;top:1376px;width:399.5px;height:64px;"></div><svg class="ic" style="left:431.50px;top:1393.80px" width="32" height="32" viewBox="0 0 24 24"><path fill="rgba(204,204,220,0.65)" d="M17,9.17a1,1,0,0,0-1.41,0L12,12.71,8.46,9.17a1,1,0,0,0-1.41,0,1,1,0,0,0,0,1.42l4.24,4.24a1,1,0,0,0,1.42,0L17,10.59A1,1,0,0,0,17,9.17Z"/></svg>
<svg class="ic" style="left:100.00px;top:1393.90px" width="32" height="32" viewBox="0 0 24 24"><path fill="rgba(204,204,220,0.65)" d="M12,2A10,10,0,1,0,22,12,10.01114,10.01114,0,0,0,12,2Zm0,18a8,8,0,1,1,8-8A8.00917,8.00917,0,0,1,12,20ZM12,6a.99974.99974,0,0,0-1,1v4H9a1,1,0,0,0,0,2h3a.99974.99974,0,0,0,1-1V7A.99974.99974,0,0,0,12,6Z"/></svg>
<div class="sel" style="left:498.5px;top:1376px;width:183.2px;height:64px;"></div><svg class="ic" style="left:631.70px;top:1393.80px" width="32" height="32" viewBox="0 0 24 24"><path fill="rgba(204,204,220,0.65)" d="M17,9.17a1,1,0,0,0-1.41,0L12,12.71,8.46,9.17a1,1,0,0,0-1.41,0,1,1,0,0,0,0,1.42l4.24,4.24a1,1,0,0,0,1.42,0L17,10.59A1,1,0,0,0,17,9.17Z"/></svg>
<div class="sel" style="left:698px;top:1376px;width:210.6px;height:64px;"></div><svg class="ic" style="left:858.60px;top:1393.80px" width="32" height="32" viewBox="0 0 24 24"><path fill="rgba(204,204,220,0.65)" d="M17,9.17a1,1,0,0,0-1.41,0L12,12.71,8.46,9.17a1,1,0,0,0-1.41,0,1,1,0,0,0,0,1.42l4.24,4.24a1,1,0,0,0,1.42,0L17,10.59A1,1,0,0,0,17,9.17Z"/></svg>
<div class="btn" style="left:925.2px;top:1376px;width:63.8px;height:64px;"></div><svg class="ic" style="left:941.10px;top:1392.00px" width="32" height="32" viewBox="0 0 24 24"><path fill="#ccccdc" d="M13.41,12l4.3-4.29a1,1,0,1,0-1.42-1.42L12,10.59,7.71,6.29A1,1,0,0,0,6.29,7.71L10.59,12l-4.3,4.29a1,1,0,0,0,0,1.42,1,1,0,0,0,1.42,0L12,13.41l4.29,4.3a1,1,0,0,0,1.42,0,1,1,0,0,0,0-1.42Z"/></svg>
<div class="sel" style="left:82px;top:1526px;width:167.5px;height:64px;border-radius:4px 0 0 4px;border-right-color:#54565d"></div><svg class="ic" style="left:199.50px;top:1543.80px" width="32" height="32" viewBox="0 0 24 24"><path fill="rgba(204,204,220,0.65)" d="M17,9.17a1,1,0,0,0-1.41,0L12,12.71,8.46,9.17a1,1,0,0,0-1.41,0,1,1,0,0,0,0,1.42l4.24,4.24a1,1,0,0,0,1.42,0L17,10.59A1,1,0,0,0,17,9.17Z"/></svg>
<div class="btn" style="left:249.5px;top:1526px;width:50.4px;height:64px;border-radius:0 4px 4px 0;border-left:none"></div><svg class="ic" style="left:258.70px;top:1542.00px" width="32" height="32" viewBox="0 0 24 24"><path fill="#ccccdc" d="M13.41,12l4.3-4.29a1,1,0,1,0-1.42-1.42L12,10.59,7.71,6.29A1,1,0,0,0,6.29,7.71L10.59,12l-4.3,4.29a1,1,0,0,0,0,1.42,1,1,0,0,0,1.42,0L12,13.41l4.29,4.3a1,1,0,0,0,1.42,0,1,1,0,0,0,0-1.42Z"/></svg>
<div class="btn" style="left:332.2px;top:1526px;width:63.8px;height:64px;"></div><svg class="ic" style="left:348.10px;top:1542.00px" width="32" height="32" viewBox="0 0 24 24"><path fill="#ccccdc" d="M19,11H13V5a1,1,0,0,0-2,0v6H5a1,1,0,0,0,0,2h6v6a1,1,0,0,0,2,0V13h6a1,1,0,0,0,0-2Z"/></svg>
<span class="t m" style="left:100.83px;top:570.77px;font-size:27.86px;color:#6e9fff">A</span>
<span class="t i" style="left:205.15px;top:572.15px;font-size:24.17px;letter-spacing:0.780px;color:rgba(204,204,220,0.65)">(Timescale)</span>
<span class="t" style="left:65.08px;top:645.02px;font-size:24.39px;letter-spacing:1.042px;color:rgba(204,204,220,0.65)">Format:</span>
<span class="t" style="left:180.47px;top:645.02px;font-size:24.39px;letter-spacing:0.789px;color:rgba(204,204,220,0.65)">Time series</span>
<span class="t" style="left:452.88px;top:642.73px;font-size:28.59px;letter-spacing:0.732px">Filter</span>
<span class="t" style="left:685.88px;top:642.73px;font-size:28.59px;letter-spacing:0.579px">Group</span>
<span class="t" style="left:933.27px;top:642.73px;font-size:28.59px;letter-spacing:0.329px;color:rgba(204,204,220,0.65)">Order</span>
<span class="t" style="left:1172.88px;top:642.73px;font-size:28.59px;letter-spacing:0.558px">Preview</span>
<span class="t m" style="left:1931.12px;top:645.77px;font-size:23.67px;letter-spacing:0.967px;color:#ffffff">Run query</span>
<span class="t m" style="left:2136.22px;top:645.77px;font-size:23.67px;letter-spacing:1.248px">Builder</span>
<span class="t" style="left:2251.08px;top:645.02px;font-size:24.39px;letter-spacing:0.845px;color:rgba(204,204,220,0.65)">Code</span>
<span class="t m" style="left:83.43px;top:720.48px;font-size:23.67px;letter-spacing:1.139px">Table</span>
<span class="t" style="left:100.48px;top:776.73px;font-size:28.59px;letter-spacing:0.942px">transactions</span>
<span class="t m" style="left:82.33px;top:870.48px;font-size:23.67px;letter-spacing:1.276px">Data operations</span>
<span class="t i" style="left:277.15px;top:869.65px;font-size:24.17px;letter-spacing:1.221px;color:rgba(204,204,220,0.65)">- optional</span>
<span class="t m" style="left:554.92px;top:870.48px;font-size:23.67px;letter-spacing:1.698px">Column</span>
<span class="t m" style="left:1025.93px;top:870.48px;font-size:23.67px;letter-spacing:1.576px">Interval</span>
<span class="t m" style="left:1499.03px;top:870.48px;font-size:23.67px;letter-spacing:0.563px">Fill</span>
<span class="t i" style="left:1540.75px;top:869.65px;font-size:24.17px;letter-spacing:1.310px;color:rgba(204,204,220,0.65)">- optional</span>
<span class="t m" style="left:1972.83px;top:870.48px;font-size:23.67px;letter-spacing:1.026px">Alias</span>
<span class="t i" style="left:2037.15px;top:869.65px;font-size:24.17px;letter-spacing:1.310px;color:rgba(204,204,220,0.65)">- optional</span>
<span class="t" style="left:100.88px;top:926.93px;font-size:28.59px;letter-spacing:0.325px">$<span style="letter-spacing:0">_</span>_timeGroup</span>
<span class="t" style="left:573.57px;top:926.93px;font-size:28.59px;letter-spacing:1.743px">&quot;time&quot;</span>
<span class="t" style="left:1046.08px;top:926.93px;font-size:28.59px;letter-spacing:0.455px">$<span style="letter-spacing:0">_</span>_interval</span>
<span class="t" style="left:1520.38px;top:926.93px;font-size:28.59px;letter-spacing:0.928px;color:rgba(204,204,220,0.62)">Choose</span>
<span class="t" style="left:1990.38px;top:926.93px;font-size:28.59px;letter-spacing:1.763px">&quot;time&quot;</span>
<span class="t" style="left:515.48px;top:927.33px;font-size:24.39px">(</span>
<span class="t" style="left:986.67px;top:928.12px;font-size:24.39px">,</span>
<span class="t" style="left:1458.28px;top:928.12px;font-size:24.39px">,</span>
<span class="t" style="left:1931.28px;top:927.33px;font-size:24.39px">)</span>
<span class="t m" style="left:82.33px;top:1012.27px;font-size:23.67px;letter-spacing:1.276px">Data operations</span>
<span class="t i" style="left:277.15px;top:1011.45px;font-size:24.17px;letter-spacing:1.221px;color:rgba(204,204,220,0.65)">- optional</span>
<span class="t m" style="left:554.92px;top:1012.27px;font-size:23.67px;letter-spacing:1.698px">Column</span>
<span class="t m" style="left:1029.12px;top:1012.27px;font-size:23.67px;letter-spacing:1.101px">Alias</span>
<span class="t i" style="left:1093.45px;top:1011.45px;font-size:24.17px;letter-spacing:1.366px;color:rgba(204,204,220,0.65)">- optional</span>
<span class="t" style="left:100.88px;top:1067.92px;font-size:28.59px;letter-spacing:-0.825px">AVG</span>
<span class="t" style="left:575.57px;top:1067.92px;font-size:28.59px;letter-spacing:0.816px">weight</span>
<span class="t" style="left:1047.88px;top:1067.92px;font-size:28.59px;letter-spacing:1.485px">&quot;weight&quot;</span>
<span class="t" style="left:515.48px;top:1068.32px;font-size:24.39px">(</span>
<span class="t" style="left:988.07px;top:1068.32px;font-size:24.39px">)</span>
<span class="t m" style="left:82.33px;top:1257.47px;font-size:23.67px;letter-spacing:1.282px">Filter by column value</span>
<span class="t i" style="left:349.45px;top:1256.65px;font-size:24.17px;letter-spacing:1.266px;color:rgba(204,204,220,0.65)">- optional</span>
<span class="t" style="left:100.58px;top:1313.92px;font-size:28.59px;letter-spacing:-0.325px">AND</span>
<span class="t" style="left:149.38px;top:1393.92px;font-size:28.59px;letter-spacing:1.423px">&quot;time&quot;</span>
<span class="t" style="left:514.77px;top:1393.92px;font-size:28.59px;letter-spacing:1.390px">Macros</span>
<span class="t" style="left:717.07px;top:1393.92px;font-size:28.59px;letter-spacing:0.730px">timeFilter</span>
<span class="t m" style="left:82.33px;top:1487.47px;font-size:23.67px;letter-spacing:1.405px">Group by column</span>
<span class="t" style="left:101.28px;top:1543.92px;font-size:28.59px;letter-spacing:1.523px">&quot;time&quot;</span>
</div></div>
</body></html>
